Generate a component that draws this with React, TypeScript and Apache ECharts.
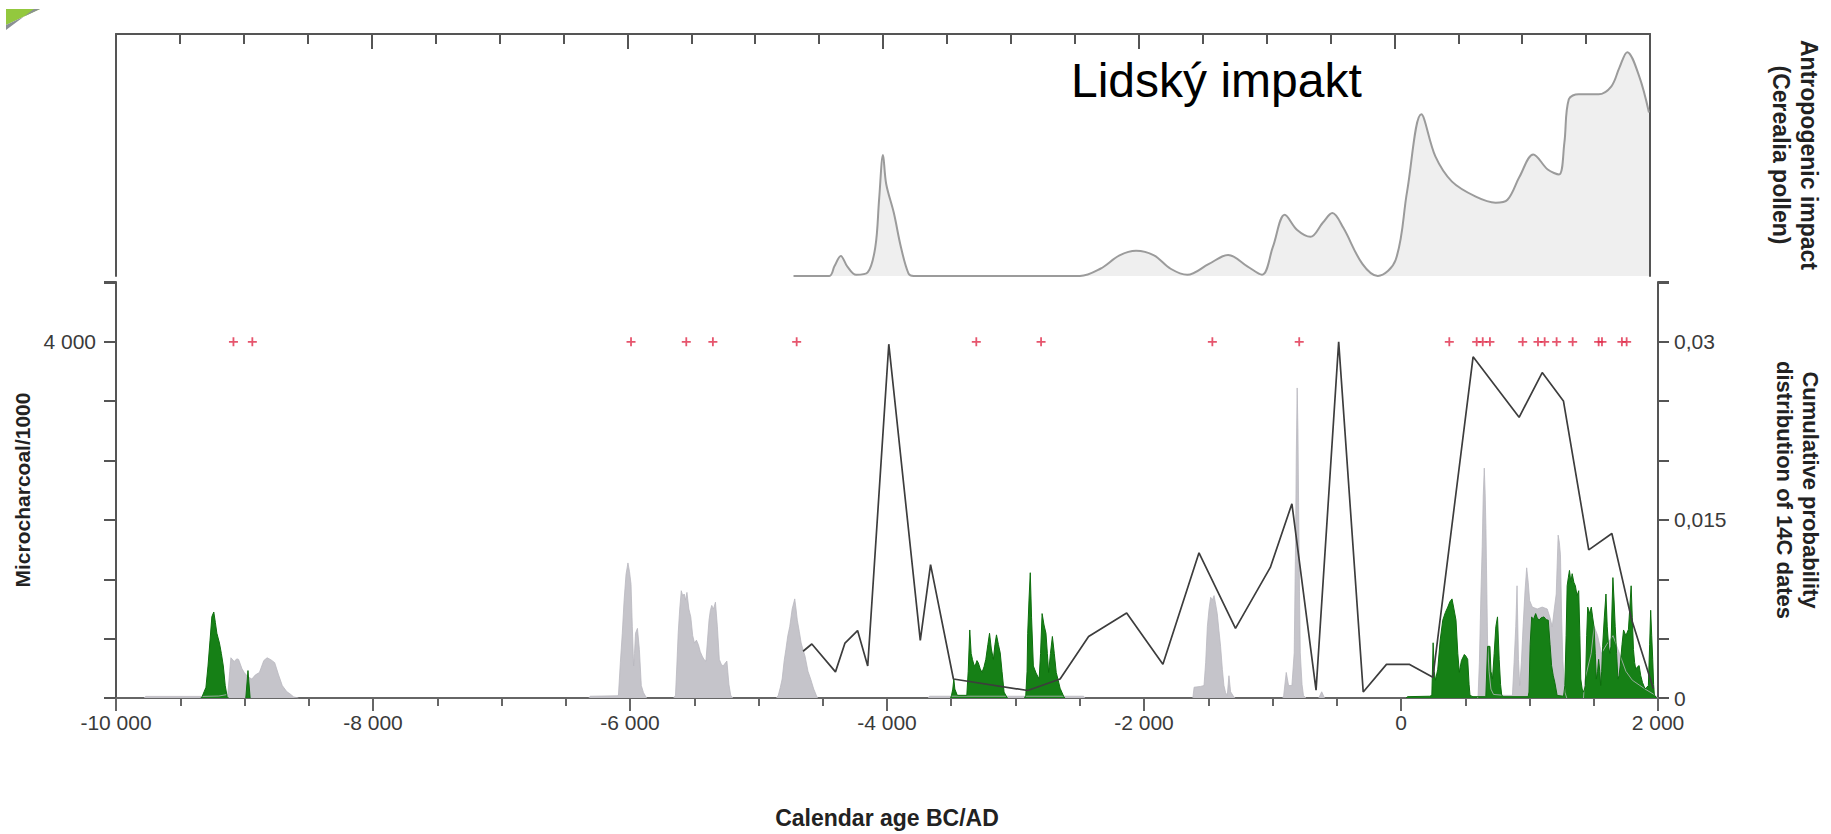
import React, { useEffect, useRef } from 'react';
import * as echarts from 'echarts';

// ---- DATA (years BC/AD negative = BC) ----
const pollenCurve: [number, number][] = [
  [-4700, 0], [-4420, 0], [-4380, 4], [-4330, 8.3], [-4280, 4], [-4210, 0.5], [-4120, 1.5],
  [-4060, 12], [-4030, 32], [-4000, 50], [-3975, 38], [-3915, 26], [-3860, 12], [-3800, 1], [-3760, 0],
  [-2460, 0], [-2300, 3], [-2150, 8.5], [-2020, 10.4], [-1880, 8.5], [-1750, 3], [-1620, 0.5],
  [-1450, 5], [-1300, 8.7], [-1150, 4], [-1035, 0.5], [-950, 12], [-857, 25.3], [-760, 19],
  [-656, 16.2], [-560, 22], [-485, 26], [-400, 20], [-250, 5], [-129, 0], [10, 6.6], [100, 35],
  [211, 66.8], [321, 49.4], [451, 39], [637, 32.8], [792, 30.3], [885, 31.5], [979, 41],
  [1087, 50.2], [1200, 44], [1288, 41.9], [1330, 55], [1365, 73], [1442, 75.1], [1597, 75.1],
  [1698, 78.4], [1760, 86], [1822, 92.5], [1915, 82.6], [1992, 67.6]
];

const grayCharcoal: [number, number | null][] = [
  [-9780, 0], [-9770, 18], [-9330, 18], [-9200, 22], [-9130, 40], [-9115, 300], [-9106, 452], [-9080, 410],
  [-9060, 440], [-9046, 433], [-9020, 330], [-9002, 286], [-8975, 240], [-8943, 213], [-8915, 260],
  [-8884, 286], [-8850, 420], [-8824, 452], [-8795, 430], [-8765, 397], [-8735, 260], [-8706, 140],
  [-8670, 70], [-8647, 48], [-8617, 12], [-8580, 0], [-8500, null],
  [-6320, 0], [-6310, 20], [-6100, 25], [-6090, 30], [-6075, 400], [-6060, 727], [-6046, 1094],
  [-6031, 1388], [-6016, 1517], [-6004, 1420], [-5992, 1278], [-5982, 800], [-5972, 360], [-5965, 500],
  [-5957, 727], [-5942, 782], [-5927, 544], [-5912, 140], [-5895, 60], [-5883, 30], [-5870, 0], [-5800, null],
  [-5660, 0], [-5646, 30], [-5635, 380], [-5625, 727], [-5613, 1000], [-5601, 1205], [-5590, 1150],
  [-5578, 1168], [-5568, 1100], [-5557, 1186], [-5542, 1000], [-5527, 911], [-5512, 700], [-5498, 617],
  [-5483, 650], [-5468, 599], [-5453, 520], [-5438, 470], [-5423, 430], [-5409, 415], [-5397, 650],
  [-5385, 874], [-5375, 980], [-5364, 1040], [-5350, 1000], [-5335, 1076], [-5320, 800], [-5305, 434],
  [-5290, 380], [-5275, 360], [-5260, 390], [-5246, 415], [-5230, 150], [-5216, 30], [-5200, 0], [-5000, null],
  [-4860, 0], [-4846, 30], [-4830, 120], [-4816, 213], [-4800, 420], [-4787, 544], [-4772, 700],
  [-4757, 801], [-4738, 1000], [-4718, 1113], [-4708, 1000], [-4698, 874], [-4683, 750], [-4668, 617],
  [-4653, 540], [-4638, 470], [-4615, 300], [-4594, 213], [-4570, 100], [-4550, 30], [-4540, 0], [-4000, null],
  [-3680, 0], [-3670, 20], [-2470, 20], [-2460, 0], [-2000, null],
  [-1620, 0], [-1610, 121], [-1560, 130], [-1533, 140], [-1520, 400], [-1507, 801], [-1494, 1000],
  [-1481, 1131], [-1468, 1100], [-1455, 1150], [-1442, 1050], [-1430, 948], [-1417, 760], [-1404, 580],
  [-1390, 320], [-1378, 140], [-1365, 60], [-1352, 29], [-1339, 250], [-1326, 70], [-1300, 11], [-1290, 0], [-1100, null],
  [-920, 0], [-913, 29], [-893, 287], [-875, 140], [-849, 140], [-831, 507], [-820, 1800], [-815, 2711],
  [-808, 3482], [-802, 3000], [-797, 2197], [-790, 1200], [-784, 507], [-770, 150], [-759, 29], [-740, 0], [-700, null],
  [-640, 0], [-617, 70], [-595, 0], [-400, null],
  [596, 0], [600, 29], [610, 400], [622, 1168], [632, 1700], [640, 2270], [648, 2582], [655, 2300],
  [661, 1903], [668, 1200], [674, 617], [685, 300], [700, 100], [720, 40], [800, 30], [867, 29],
  [880, 400], [893, 801], [903, 1260], [914, 434], [924, 140], [937, 400], [950, 801], [965, 1200],
  [978, 1462], [990, 1300], [1001, 1094], [1022, 1021], [1060, 1000], [1099, 1021], [1138, 1000],
  [1160, 900], [1177, 801], [1193, 1000], [1208, 1168], [1223, 1829], [1232, 1750], [1241, 1609],
  [1250, 900], [1259, 434], [1275, 66], [1290, 0], [1350, null],
  [1420, 0], [1430, 200], [1480, 500], [1503, 805], [1530, 700], [1560, 500], [1600, 600], [1650, 700],
  [1700, 500], [1750, 300], [1800, 200], [1900, 100], [1980, 30], [1995, 0]
];

const greenCharcoal: [number, number | null][] = [
  [-9340, 0], [-9330, 15], [-9300, 120], [-9284, 360], [-9268, 650], [-9254, 914], [-9239, 966],
  [-9227, 850], [-9215, 727], [-9195, 617], [-9180, 500], [-9165, 360], [-9150, 140], [-9135, 15],
  [-9125, 0], [-9050, null],
  [-8990, 0], [-8980, 180], [-8973, 308], [-8966, 180], [-8956, 0], [-8000, null],
  [-3505, 0], [-3498, 30], [-3488, 100], [-3480, 213], [-3472, 100], [-3453, 30], [-3379, 30],
  [-3368, 300], [-3356, 764], [-3345, 500], [-3335, 434], [-3325, 380], [-3314, 360], [-3300, 420],
  [-3290, 397], [-3275, 330], [-3261, 287], [-3245, 350], [-3231, 434], [-3215, 600], [-3202, 727],
  [-3188, 550], [-3172, 434], [-3160, 600], [-3148, 709], [-3133, 600], [-3119, 507], [-3105, 300],
  [-3089, 66], [-3068, 11], [-3060, 0], [-3000, null],
  [-2930, 0], [-2920, 30], [-2910, 300], [-2905, 727], [-2895, 1100], [-2885, 1407], [-2875, 900],
  [-2861, 360], [-2840, 280], [-2816, 213], [-2805, 500], [-2793, 948], [-2778, 820], [-2763, 727],
  [-2752, 500], [-2742, 287], [-2728, 500], [-2713, 691], [-2698, 500], [-2683, 287], [-2668, 200],
  [-2653, 110], [-2624, 15], [-2615, 0], [0, null],
  [40, 0], [50, 15], [224, 20], [240, 30], [250, 620], [258, 300], [268, 200], [286, 323], [305, 650],
  [325, 874], [345, 960], [364, 1021], [380, 1080], [397, 1113], [412, 1000], [428, 874], [442, 500],
  [454, 287], [470, 420], [493, 489], [505, 470], [519, 434], [530, 150], [537, 29], [560, 15],
  [660, 15], [674, 580], [692, 580], [700, 300], [712, 213], [725, 500], [738, 801], [751, 911],
  [764, 434], [775, 150], [784, 29], [800, 15], [990, 15], [996, 66], [1005, 600], [1017, 911],
  [1030, 880], [1048, 948], [1060, 900], [1074, 874], [1090, 900], [1112, 911], [1130, 880],
  [1146, 874], [1160, 600], [1172, 364], [1185, 250], [1197, 176], [1215, 29], [1265, 20], [1275, 140],
  [1285, 700], [1293, 1260], [1302, 1350], [1311, 1433], [1322, 1300], [1332, 1396], [1345, 1300],
  [1357, 1260], [1370, 1150], [1383, 1205], [1392, 700], [1399, 213], [1410, 100], [1422, 66],
  [1435, 140], [1445, 700], [1453, 1021], [1467, 950], [1481, 1021], [1492, 900], [1502, 801],
  [1512, 500], [1520, 213], [1530, 300], [1538, 434], [1547, 300], [1554, 140], [1562, 300],
  [1569, 580], [1582, 900], [1595, 1168], [1605, 800], [1616, 573], [1625, 500], [1634, 580],
  [1642, 1000], [1649, 1352], [1658, 1100], [1667, 801], [1678, 500], [1688, 213], [1697, 250],
  [1706, 364], [1720, 600], [1732, 764], [1750, 700], [1770, 771], [1780, 1000], [1791, 1260],
  [1800, 900], [1809, 544], [1818, 400], [1827, 323], [1840, 350], [1853, 364], [1866, 250],
  [1879, 176], [1899, 103], [1912, 120], [1925, 140], [1935, 600], [1943, 985], [1951, 700],
  [1959, 434], [1966, 150], [1972, 29], [1985, 10], [1990, 0]
];

const cumulativeProb: [number, number][] = [
  [-4653, 0.00394], [-4585, 0.00455], [-4401, 0.0022], [-4327, 0.00463], [-4229, 0.00568],
  [-4150, 0.0027], [-3986, 0.0298], [-3741, 0.00485], [-3661, 0.01124], [-3483, 0.0016],
  [-2905, 0.00063], [-2653, 0.0016], [-2431, 0.00518], [-2135, 0.00716], [-1853, 0.00284],
  [-1572, 0.01223], [-1288, 0.00587], [-1017, 0.011], [-849, 0.01636], [-661, 0.00066],
  [-485, 0.03], [-294, 0.0005], [-113, 0.00283], [67, 0.00283], [248, 0.00174], [561, 0.02874],
  [919, 0.02364], [1099, 0.02741], [1264, 0.02502], [1461, 0.01248], [1641, 0.01386],
  [1796, 0.00656], [1964, 0.00077]
];

const dateMarkerYears: number[] = [
  -9086, -8939, -5992, -5562, -5355, -4703, -3305, -2801, -1468, -792, 376, 589, 636, 692,
  947, 1066, 1118, 1211, 1336, 1538, 1564, 1719, 1756
];
const dateMarkerLevel = 4000;

const leftLabelledTicks = [4000];
const rightLabelledTicks: [number, string][] = [[0, '0'], [0.015, '0,015'], [0.03, '0,03']];

const FONT = '"Liberation Sans", Arial, sans-serif';

function fmtYear(v: number): string {
  const s = String(Math.abs(Math.round(v))).replace(/\B(?=(\d{3})+(?!\d))/g, ' ');
  return (v < 0 ? '-' : '') + s;
}

export default function App() {
  const ref = useRef<HTMLDivElement>(null);

  useEffect(() => {
    document.body.style.margin = '0';
    const chart = echarts.init(ref.current!, undefined, { renderer: 'svg' });
    const plus = 'path://M4,0H6V4H10V6H6V10H4V6H0V4H4Z';

    chart.setOption({
      animation: false,
      backgroundColor: '#ffffff',
      textStyle: { fontFamily: FONT },
      grid: [
        { left: 116, right: 165, top: 34, bottom: 558 },
        { left: 116, right: 165, top: 282, bottom: 128 }
      ],
      xAxis: [
        {
          gridIndex: 0, type: 'value', min: -10000, max: 2000, interval: 500, position: 'top',
          axisLine: { show: true, onZero: false, lineStyle: { color: '#555', width: 2 } },
          axisTick: { show: true, inside: true, length: 10, lineStyle: { color: '#555', width: 2 } },
          axisLabel: { show: false }, splitLine: { show: false }
        },
        {
          gridIndex: 0, type: 'value', min: -10000, max: 2000, interval: 2000, position: 'top',
          axisLine: { show: false, onZero: false },
          axisTick: { show: true, inside: true, length: 15, lineStyle: { color: '#555', width: 2 } },
          axisLabel: { show: false }, splitLine: { show: false }
        },
        {
          gridIndex: 1, type: 'value', min: -10000, max: 2000, interval: 500, position: 'bottom',
          axisLine: { show: true, onZero: false, lineStyle: { color: '#666', width: 2 } },
          axisTick: { show: true, length: 8, lineStyle: { color: '#666', width: 2 } },
          axisLabel: { show: false }, splitLine: { show: false }
        },
        {
          gridIndex: 1, type: 'value', min: -10000, max: 2000, interval: 2000, position: 'bottom',
          axisLine: { show: false, onZero: false },
          axisTick: { show: true, length: 13, lineStyle: { color: '#666', width: 2 } },
          axisLabel: { show: true, margin: 14, fontSize: 21, color: '#3a3a3a', fontFamily: FONT, formatter: (v: number) => fmtYear(v) },
          splitLine: { show: false },
          name: 'Calendar age BC/AD', nameLocation: 'middle', nameGap: 108,
          nameTextStyle: { fontSize: 23, fontWeight: 'bold', color: '#222', fontFamily: FONT }
        }
      ],
      yAxis: [
        {
          gridIndex: 0, type: 'value', min: 0, max: 100, position: 'left',
          axisLine: { show: true, onZero: false, lineStyle: { color: '#555', width: 2 } },
          axisTick: { show: false }, axisLabel: { show: false }, splitLine: { show: false }
        },
        {
          gridIndex: 0, type: 'value', min: 0, max: 100, position: 'right',
          axisLine: { show: true, onZero: false, lineStyle: { color: '#555', width: 2 } },
          axisTick: { show: false }, axisLabel: { show: false }, splitLine: { show: false },
          name: 'Antropogenic impact\n(Cerealia pollen)', nameLocation: 'middle', nameRotate: -90, nameGap: 117,
          nameTextStyle: { fontSize: 23, fontWeight: 'bold', color: '#222', lineHeight: 28, fontFamily: FONT }
        },
        {
          gridIndex: 1, type: 'value', min: 0, max: 4672, interval: 4000 / 6, position: 'left',
          axisLine: { show: true, onZero: false, lineStyle: { color: '#555', width: 2 } },
          axisTick: { show: true, length: 12, lineStyle: { color: '#555', width: 2 } },
          axisLabel: {
            show: true, margin: 20, fontSize: 21, color: '#3a3a3a', fontFamily: FONT,
            formatter: (v: number) => leftLabelledTicks.some(t => Math.abs(t - v) < 1) ? fmtYear(v) : ''
          },
          splitLine: { show: false },
          name: 'Microcharcoal/1000', nameLocation: 'middle', nameRotate: 90, nameGap: 78,
          nameTextStyle: { fontSize: 21, fontWeight: 'bold', color: '#222', fontFamily: FONT }
        },
        {
          gridIndex: 1, type: 'value', min: 0, max: 0.03504, interval: 0.005, position: 'right',
          axisLine: { show: true, onZero: false, lineStyle: { color: '#555', width: 2 } },
          axisTick: { show: true, length: 11, lineStyle: { color: '#555', width: 2 } },
          axisLabel: {
            show: true, margin: 16, fontSize: 21, color: '#3a3a3a', fontFamily: FONT,
            formatter: (v: number) => {
              const f = rightLabelledTicks.find(t => Math.abs(t[0] - v) < 1e-6);
              return f ? f[1] : '';
            }
          },
          splitLine: { show: false },
          name: 'Cumulative probability\ndistribution of 14C dates', nameLocation: 'middle', nameRotate: -90, nameGap: 113,
          nameTextStyle: { fontSize: 22, fontWeight: 'bold', color: '#222', lineHeight: 26, fontFamily: FONT }
        }
      ],
      series: [
        {
          name: 'Cerealia pollen', type: 'line', xAxisIndex: 0, yAxisIndex: 0, data: pollenCurve,
          smooth: 0.35, symbol: 'none', clip: true,
          lineStyle: { color: '#9b9b9b', width: 2 },
          areaStyle: { color: '#e8e8e8' }
        },
        {
          name: 'Microcharcoal gray', type: 'line', xAxisIndex: 2, yAxisIndex: 2, data: grayCharcoal,
          symbol: 'none', connectNulls: false,
          lineStyle: { color: '#b9b8bf', width: 0.8 },
          areaStyle: { color: '#c5c4ca', opacity: 1 }
        },
        {
          name: 'Microcharcoal green', type: 'line', xAxisIndex: 2, yAxisIndex: 2, data: greenCharcoal,
          symbol: 'none', connectNulls: false,
          lineStyle: { color: '#0e6e0e', width: 1 },
          areaStyle: { color: '#168016', opacity: 1 }
        },
        {
          name: 'Cumulative probability', type: 'line', xAxisIndex: 2, yAxisIndex: 3, data: cumulativeProb,
          symbol: 'none', lineStyle: { color: '#3d3d3d', width: 1.7 }, z: 5
        },
        {
          name: '14C dates', type: 'scatter', xAxisIndex: 2, yAxisIndex: 2,
          data: dateMarkerYears.map(y => [y, dateMarkerLevel]),
          symbol: plus, symbolSize: 9, itemStyle: { color: '#e02a48' }, z: 6
        }
      ],
      graphic: [
        { type: 'polygon', shape: { points: [[6, 9], [40, 9], [6, 25]] }, style: { fill: '#93c83e' } },
        { type: 'polygon', shape: { points: [[6, 25], [40, 9], [34, 9], [6, 30]] }, style: { fill: '#8a8f94' } },
        {
          type: 'text', x: 1071, y: 80,
          style: { text: 'Lidský impakt', fontSize: 48, fontFamily: FONT, fill: '#000', verticalAlign: 'middle', align: 'left' }
        }
      ]
    });

    return () => chart.dispose();
  }, []);

  return <div ref={ref} style={{ width: 1831, height: 834 }} />;
}
